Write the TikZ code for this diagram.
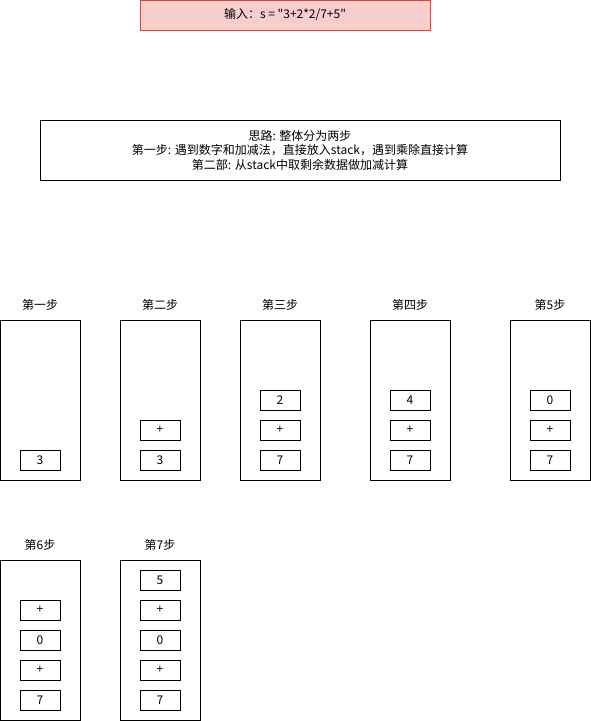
\documentclass[tikz,border=0pt]{standalone}
\usepackage{fontspec}
\setmainfont{Noto Sans CJK SC}[Ligatures=TeXOff]
\usetikzlibrary{positioning}
\definecolor{inputfill}{HTML}{F8CECC}
\definecolor{inputline}{HTML}{B85450}

\begin{document}
\begin{tikzpicture}[x=1pt, y=-1pt, node distance=30pt, on grid,
    font=\fontsize{12pt}{14.5pt}\selectfont,
    every node/.style={inner sep=0pt, outer sep=0pt},
    stack/.style={draw, minimum width=80pt, minimum height=160pt},
    cell/.style={draw, minimum width=40pt, minimum height=20pt},
    title/.style={}]
    \useasboundingbox (0,0) rectangle (591,721);

    \node[draw=inputline, fill=inputfill, minimum width=290pt, minimum height=30pt] (input) at (285,15) {输入：s = "3+2*2/7+5"};
    \node[draw, minimum width=520pt, minimum height=60pt, align=center] (idea) at (300,150)
        {思路: 整体分为两步\\第一步: 遇到数字和加减法，直接放入stack，遇到乘除直接计算\\第二部: 从stack中取剩余数据做加减计算};

    % first row
    \node[stack] (s1) at (40,400) {};
    \node[stack] (s2) at (160,400) {};
    \node[stack] (s3) at (280,400) {};
    \node[stack] (s4) at (410,400) {};
    \node[stack] (s5) at (550,400) {};
    % second row
    \node[stack] (s6) at (40,640) {};
    \node[stack] (s7) at (160,640) {};

    \node[title] (t1) at (40,305) {第一步};
    \node[title] (t2) at (160,305) {第二步};
    \node[title] (t3) at (280,305) {第三步};
    \node[title] (t4) at (410,305) {第四步};
    \node[title] (t5) at (550,305) {第5步};
    \node[title] (t6) at (40,545) {第6步};
    \node[title] (t7) at (160,545) {第7步};

    \node[cell] (s1a) at (40,460) {3};

    \node[cell] (s2a) at (160,460) {3};
    \node[cell] (s2b) [above=of s2a] {+};

    \node[cell] (s3a) at (280,460) {7};
    \node[cell] (s3b) [above=of s3a] {+};
    \node[cell] (s3c) [above=of s3b] {2};

    \node[cell] (s4a) at (410,460) {7};
    \node[cell] (s4b) [above=of s4a] {+};
    \node[cell] (s4c) [above=of s4b] {4};

    \node[cell] (s5a) at (550,460) {7};
    \node[cell] (s5b) [above=of s5a] {+};
    \node[cell] (s5c) [above=of s5b] {0};

    \node[cell] (s6a) at (40,700) {7};
    \node[cell] (s6b) [above=of s6a] {+};
    \node[cell] (s6c) [above=of s6b] {0};
    \node[cell] (s6d) [above=of s6c] {+};

    \node[cell] (s7a) at (160,700) {7};
    \node[cell] (s7b) [above=of s7a] {+};
    \node[cell] (s7c) [above=of s7b] {0};
    \node[cell] (s7d) [above=of s7c] {+};
    \node[cell] (s7e) [above=of s7d] {5};
\end{tikzpicture}
\end{document}
